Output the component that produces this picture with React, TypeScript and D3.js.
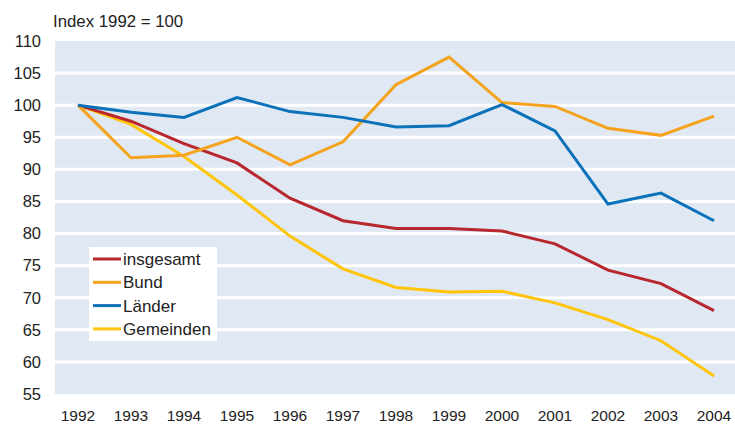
import React, { useEffect, useRef } from 'react';
import * as d3 from 'd3';

const years = ['1992', '1993', '1994', '1995', '1996', '1997', '1998', '1999', '2000', '2001', '2002', '2003', '2004'];
const insgesamt = [100, 97.5, 94, 91, 85.5, 82, 80.8, 80.8, 80.4, 78.4, 74.3, 72.2, 68];
const bund = [100, 91.8, 92.2, 95, 90.7, 94.3, 103.2, 107.5, 100.4, 99.8, 96.4, 95.3, 98.3];
const laender = [100, 98.9, 98.1, 101.2, 99, 98.1, 96.6, 96.8, 100.1, 96, 84.6, 86.3, 82];
const gemeinden = [100, 97, 92, 86, 79.6, 74.5, 71.6, 70.9, 71, 69.2, 66.6, 63.3, 57.8];
const yTicks = [55, 60, 65, 70, 75, 80, 85, 90, 95, 100, 105, 110];

const series = [
  { name: 'insgesamt', values: insgesamt, color: '#b8262e' },
  { name: 'Bund', values: bund, color: '#f5a21c' },
  { name: 'Länder', values: laender, color: '#0b72b9' },
  { name: 'Gemeinden', values: gemeinden, color: '#ffc50a' },
];

export default function App() {
  const ref = useRef<SVGSVGElement>(null);

  useEffect(() => {
    const svg = d3.select(ref.current);
    svg.selectAll('*').remove();
    const W = 735, H = 425;
    const m = { t: 41, r: 0, b: 31, l: 55 };
    const font = '"Liberation Sans", Arial, sans-serif';

    const x = d3.scalePoint().domain(years).range([78, 714]);
    const y = d3.scaleLinear().domain([55, 110]).range([H - m.b, m.t]);

    svg.append('rect').attr('x', m.l).attr('y', m.t).attr('width', W - m.l - m.r).attr('height', y(55) - m.t).attr('fill', '#e0e8f3');

    svg.append('g').selectAll('line').data(yTicks.filter(d => d > 55 && d < 110)).enter().append('line')
      .attr('x1', m.l).attr('x2', W - m.r).attr('y1', d => y(d)).attr('y2', d => y(d))
      .attr('stroke', '#fff').attr('stroke-width', 3);

    svg.append('g').selectAll('text').data(yTicks).enter().append('text')
      .attr('x', 41).attr('y', d => y(d)).attr('dy', '0.35em').attr('text-anchor', 'end')
      .attr('font-family', font).attr('font-size', 16.5).attr('fill', '#222').text(d => d);

    svg.append('g').selectAll('text').data(years).enter().append('text')
      .attr('x', d => x(d)!).attr('y', 421).attr('text-anchor', 'middle')
      .attr('font-family', font).attr('font-size', 15.5).attr('fill', '#222').text(d => d);

    svg.append('text').attr('x', 53).attr('y', 27).attr('font-family', font).attr('font-size', 16.8).attr('fill', '#222').text('Index 1992 = 100');

    const line = d3.line<number>().x((_, i) => x(years[i])!).y(d => y(d));
    const drawOrder = [series[3], series[0], series[1], series[2]];
    svg.append('g').selectAll('path').data(drawOrder).enter().append('path')
      .attr('d', d => line(d.values)).attr('fill', 'none').attr('stroke', d => d.color)
      .attr('stroke-width', 3).attr('stroke-linejoin', 'miter');

    const lg = svg.append('g').attr('transform', 'translate(89,247)');
    lg.append('rect').attr('width', 128).attr('height', 94).attr('fill', '#fff');
    series.forEach((s, i) => {
      const yy = 12 + i * 23.3;
      lg.append('line').attr('x1', 4).attr('x2', 32).attr('y1', yy).attr('y2', yy).attr('stroke', s.color).attr('stroke-width', 3);
      lg.append('text').attr('x', 34).attr('y', yy).attr('dy', '0.35em').attr('font-family', font).attr('font-size', 17).attr('fill', '#222').text(s.name);
    });
  }, []);

  return (
    <div>
      <style>{'body{margin:0}'}</style>
      <svg ref={ref} width={735} height={425} style={{ display: 'block' }} />
    </div>
  );
}
